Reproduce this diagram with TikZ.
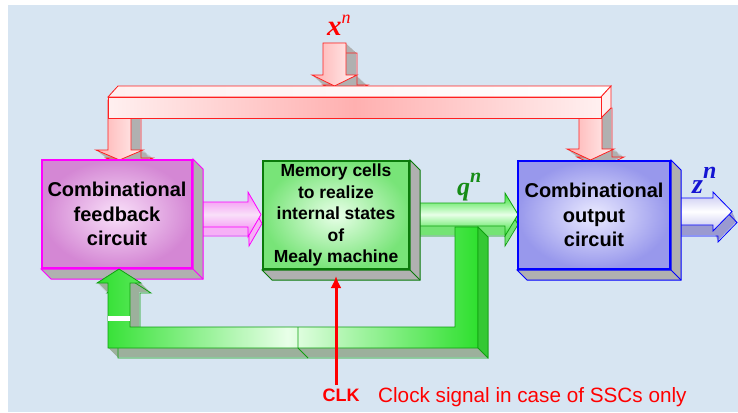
\documentclass[tikz,border=0pt]{standalone}
\usepackage{fontspec}
\setmainfont{Liberation Serif}
\setsansfont{Liberation Sans}
\usepackage{tikz}
\usetikzlibrary{arrows.meta, positioning, calc}

\definecolor{bgblue}{HTML}{D7E5F2}
\definecolor{sidegrey}{HTML}{B0B0B0}
\definecolor{busred}{HTML}{FF2020}
\definecolor{buspink}{HTML}{FFB0B0}
\definecolor{buslight}{HTML}{FFF0F0}
\definecolor{fbedge}{HTML}{FF00FF}
\definecolor{fbout}{HTML}{D487D4}
\definecolor{fbin}{HTML}{F9E0F9}
\definecolor{fbpipe}{HTML}{F27CF2}
\definecolor{fbbottom}{HTML}{F6B0F6}
\definecolor{memedge}{HTML}{0A7A0A}
\definecolor{memout}{HTML}{78E478}
\definecolor{memin}{HTML}{E8FFE8}
\definecolor{qedge}{HTML}{10A010}
\definecolor{qpipe}{HTML}{2EE02E}
\definecolor{qbottom}{HTML}{74E474}
\definecolor{loopside}{HTML}{34C834}
\definecolor{loopbottom}{HTML}{9CB09C}
\definecolor{outedge}{HTML}{0000FF}
\definecolor{outout}{HTML}{9898EC}
\definecolor{outin}{HTML}{EAEAFF}
\definecolor{zpipe}{HTML}{C4C4F0}
\definecolor{zside}{HTML}{9A9AD0}
\definecolor{labred}{HTML}{FF0000}
\definecolor{labgreen}{HTML}{168C16}
\definecolor{labblue}{HTML}{1414D2}

\newcommand{\boxfont}{\sffamily\bfseries\fontsize{20}{24.5}\selectfont}
\newcommand{\memfont}{\sffamily\bfseries\fontsize{17.5}{21.5}\selectfont}
\newcommand{\clkfont}{\sffamily\bfseries\fontsize{18}{18}\selectfont}
\newcommand{\notefont}{\sffamily\fontsize{20.7}{24}\selectfont}

% extruded shape: dx, dy, side colour, rim colour, front options, outline
\newcommand{\slab}[6]{%
  \foreach \s in {0,0.1,...,1}
    \fill[#3, shift={(\s*#1,\s*#2)}] #6;
  \draw[draw=#4, line width=0.8pt, shift={(#1,#2)}] #6;
  \draw[draw=#4, line width=0.8pt, #5] #6;}

% right and bottom faces of a box node
\newcommand{\boxsides}[2]{%
  \filldraw[fill=sidegrey, draw=#2, line width=1pt]
    (#1.north east) -- ++(10,10) -- ($(#1.south east)+(10,10)$)
    -- ($(#1.south west)+(10,10)$) -- (#1.south west) -- (#1.south east) -- cycle;
  \draw[#2, line width=1pt] (#1.south east) -- ++(10,10);}

\tikzset{
  block/.style={draw=#1, line width=2pt, minimum height=108pt, inner sep=0pt, align=center},
  lbl/.style={anchor=base west, inner sep=0pt},
}

\begin{document}
\begin{tikzpicture}[x=1pt, y=-1pt]
    \useasboundingbox (0,0) rectangle (738,412);
    \fill[white] (0,0) rectangle (738,412);
    \fill[bgblue] (8,5) rectangle (738,412);

    % x^n bus
    \slab{11}{10}{sidegrey}{busred}{left color=buspink, right color=buslight}
      {(323,43) -- (346,43) -- (346,75) -- (357,75) -- (334.5,86) -- (312,75) -- (323,75) -- cycle}
    \slab{10}{8}{sidegrey}{busred}{left color=buspink, right color=buslight}
      {(108,100) -- (131,100) -- (131,150) -- (143,150) -- (119.5,160) -- (96,150) -- (108,150) -- cycle}
    \slab{10}{8}{sidegrey}{busred}{left color=buspink, right color=buslight}
      {(579,100) -- (602,100) -- (602,149) -- (614,149) -- (590.5,160) -- (567,149) -- (579,149) -- cycle}
    \filldraw[draw=busred, line width=0.8pt, left color=buslight, right color=white]
      (108,97) -- (118,86) -- (611,86) -- (601,97) -- cycle;
    \filldraw[draw=busred, line width=0.8pt, fill=buslight]
      (601,97) -- (611,86) -- (611,108) -- (601,118) -- cycle;
    \filldraw[draw=busred, line width=0.8pt, left color=buslight, right color=buslight, middle color=buspink]
      (108,97) rectangle (601,118);

    % horizontal pipes
    \slab{1}{9}{fbbottom}{fbedge}{top color=fbpipe, bottom color=fbpipe, middle color=fbin}
      {(200,202) -- (248,202) -- (248,192) -- (261,214.5) -- (248,237) -- (248,227) -- (200,227) -- cycle}
    \slab{0}{10}{qbottom}{qedge}{top color=qpipe, bottom color=qpipe, middle color=memin}
      {(418,203) -- (505,203) -- (505,193) -- (518,214.5) -- (505,236) -- (505,226) -- (418,226) -- cycle}
    \slab{5}{11}{zside}{outedge}{top color=zpipe, bottom color=zpipe, middle color=white}
      {(672,198) -- (713,198) -- (713,192) -- (732,211.5) -- (713,231) -- (713,225) -- (672,225) -- cycle}

    % blocks
    \node[block=fbedge, minimum width=150pt, inner color=fbin, outer color=fbout, font=\boxfont]
      (fb) at (117,214) {Combinational\\feedback\\circuit};
    \node[block=memedge, minimum width=146pt, inner color=memin, outer color=memout, font=\memfont]
      (mem) at (336,215) {Memory cells\\to realize\\internal states\\of\\Mealy machine};
    \node[block=outedge, minimum width=152pt, inner color=outin, outer color=outout, font=\boxfont]
      (out) at (594,215) {Combinational\\output\\circuit};
    \boxsides{fb}{fbedge}
    \boxsides{mem}{memedge}
    \boxsides{out}{outedge}

    % q^n feedback loop
    \slab{10}{10}{loopbottom}{qedge}{left color=qpipe, right color=qpipe, middle color=memin}
      {(119,269) -- (141,283) -- (130,283) -- (130,327) -- (455,327) -- (455,227) -- (478,227)
       -- (478,348) -- (108,348) -- (108,283) -- (97,283) -- cycle}
    \filldraw[fill=loopside, draw=qedge, line width=0.8pt] (478,227) -- (488,237) -- (488,358) -- (478,348) -- cycle;
    \fill[white] (108.4,316) rectangle (129.6,321);
    \draw[qedge, line width=0.8pt] (298,327) -- (298,348) -- (308,358);

    % clock
    \node[font=\clkfont, text=labred] (clk) at (341,395) {CLK};
    \draw[labred, line width=3pt, -{Latex[length=12pt,width=11pt]}] (clk.north -| mem.south) -- ($(mem.south)+(0,6)$);
    \node[lbl, font=\notefont, text=labred] (note) at (378,402) {Clock signal in case of SSCs only};

    % signal names
    \node[lbl, text=labred] (xn) at (327,36)
      {\fontsize{29}{29}\selectfont\bfseries\itshape x\raisebox{13pt}{\fontsize{18}{18}\selectfont\mdseries n}};
    \node[lbl, text=labgreen] (qn) at (457,195)
      {\fontsize{26}{26}\selectfont\bfseries\itshape q\raisebox{13pt}{\fontsize{20}{20}\selectfont n}};
    \node[lbl, text=labblue] (zn) at (692,193)
      {\fontsize{28}{28}\selectfont\bfseries\itshape z\raisebox{15pt}{\fontsize{24}{24}\selectfont n}};
\end{tikzpicture}
\end{document}
